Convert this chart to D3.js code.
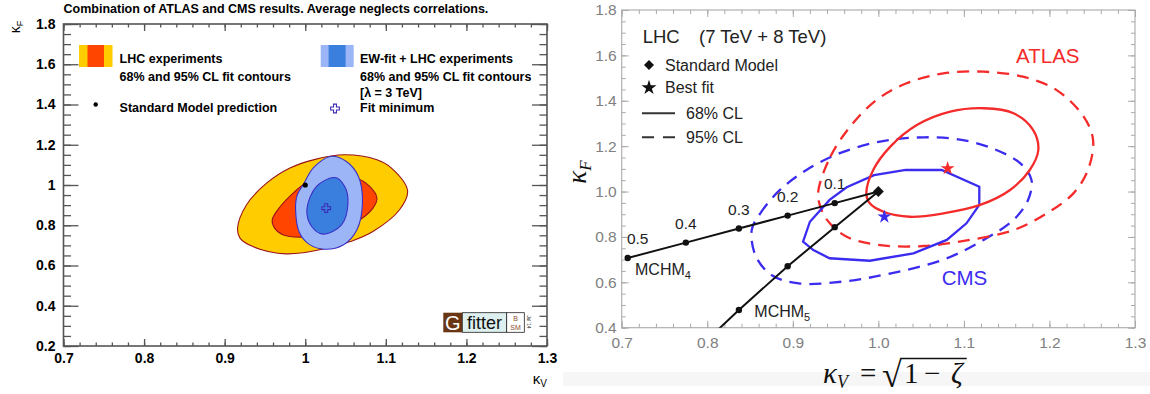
<!DOCTYPE html>
<html>
<head>
<meta charset="utf-8">
<script src="https://cdn.jsdelivr.net/npm/d3@7"></script>
<style>
html, body { margin: 0; padding: 0; background: #fff; }
svg { display: block; font-family: "Liberation Sans", Arial, Helvetica, sans-serif; }
</style>
</head>
<body>
<svg id="chart" width="1150" height="394"></svg>
<script>
// ---------- left panel (Gfitter) data ----------
var leftXTicks = [0.7, 0.8, 0.9, 1.0, 1.1, 1.2, 1.3];
var leftXLabels = ['0.7', '0.8', '0.9', '1', '1.1', '1.2', '1.3'];
var leftYTicks = [0.2, 0.4, 0.6, 0.8, 1.0, 1.2, 1.4, 1.6, 1.8];
var leftYLabels = ['0.2', '0.4', '0.6', '0.8', '1', '1.2', '1.4', '1.6', '1.8'];

// contours as [kappaV, kappaF]
var lhc95 = [[0.916,0.786],[0.927,0.901],[0.952,1.009],[0.981,1.084],[1.010,1.125],[1.049,1.150],
             [1.089,1.125],[1.107,1.084],[1.127,0.971],[1.117,0.877],[1.084,0.769],[1.056,0.719],
             [1.027,0.686],[0.976,0.658],[0.935,0.694],[0.919,0.736]];
var lhc68 = [[0.959,0.827],[0.969,0.893],[0.985,0.960],[1.000,1.007],[1.018,1.034],[1.035,1.042],
             [1.064,1.034],[1.080,0.993],[1.089,0.935],[1.084,0.885],[1.068,0.827],[1.043,0.777],
             [1.014,0.747],[0.993,0.741],[0.973,0.752],[0.962,0.786]];
var ewLhc95 = [[1.031,1.142],[1.051,1.117],[1.066,1.042],[1.071,0.910],[1.064,0.777],[1.047,0.702],
               [1.024,0.681],[1.005,0.705],[0.993,0.761],[0.988,0.877],[0.990,0.950],[0.998,1.005],
               [1.010,1.085]];
var ewLhc68 = [[1.037,1.037],[1.049,0.993],[1.053,0.910],[1.045,0.802],[1.022,0.756],[1.008,0.794],
               [1.002,0.877],[1.014,0.993]];
var smPoint = [1.0, 1.0];
var fitMinimum = [1.026, 0.885];

// ---------- right panel data ----------
var rightXTicks = [0.7, 0.8, 0.9, 1.0, 1.1, 1.2, 1.3];
var rightYTicks = [0.4, 0.6, 0.8, 1.0, 1.2, 1.4, 1.6, 1.8];

var atlas95 = [[0.930,1.007],[0.944,1.154],[0.967,1.286],[0.998,1.404],[1.033,1.477],[1.076,1.521],
               [1.123,1.528],[1.169,1.506],[1.208,1.448],[1.240,1.330],[1.251,1.227],[1.245,1.095],
               [1.228,0.992],[1.197,0.904],[1.158,0.830],[1.107,0.787],[1.053,0.760],[1.002,0.764],
               [0.963,0.801],[0.940,0.875],[0.931,0.948]];
var atlas68 = [[0.986,0.992],[0.994,1.095],[1.014,1.198],[1.045,1.293],[1.084,1.352],[1.123,1.367],
               [1.158,1.345],[1.181,1.271],[1.187,1.183],[1.177,1.095],[1.154,1.007],[1.119,0.941],
               [1.076,0.904],[1.037,0.889],[1.006,0.911],[0.990,0.948]];
var cms95 = [[0.852,0.831],[0.862,0.904],[0.885,1.007],[0.916,1.095],[0.955,1.169],[1.002,1.220],
             [1.053,1.239],[1.099,1.227],[1.138,1.183],[1.166,1.124],[1.179,1.051],[1.175,0.963],
             [1.158,0.875],[1.123,0.787],[1.076,0.700],[1.010,0.636],[0.958,0.603],[0.907,0.595],
             [0.876,0.630],[0.857,0.713]];
var cms68 = [[0.912,0.779],[0.920,0.867],[0.943,0.963],[0.963,1.019],[0.995,1.072],[1.032,1.095],
             [1.074,1.095],[1.118,1.021],[1.118,0.941],[1.103,0.860],[1.080,0.787],[1.041,0.728],
             [0.990,0.695],[0.943,0.706],[0.924,0.742]];
var atlasBest = [1.081, 1.102];
var cmsBest = [1.007, 0.889];
var smRight = [1.0, 1.0];

var xiLabels = ['0.5', '0.4', '0.3', '0.2', '0.1'];
var mchm4 = [[0.707,0.707],[0.775,0.775],[0.837,0.837],[0.894,0.894],[0.949,0.949],[1.0,1.0]];
var mchm5 = [[1.0,1.0],[0.949,0.843],[0.894,0.671],[0.837,0.478],[0.775,0.258]];

var svg = d3.select('#chart');

// ROOT / Mathematica style frame with inward ticks on all four sides
function frameAxes(g, x, y, o) {
    var xr = x.range(), yr = y.range();
    function add(axis, tr) {
        var a = g.append('g').attr('transform', tr).call(axis);
        a.select('.domain').remove();
        a.attr('font-family', null).attr('font-size', o.fontSize).attr('font-weight', o.fontWeight);
        a.selectAll('line').attr('stroke', o.tickColor).attr('stroke-width', o.tickWidth);
        a.selectAll('text').attr('fill', o.textColor);
        return a;
    }
    var none = function() { return ''; };
    add(d3.axisBottom(x).tickValues(o.majorX).tickSizeInner(-o.lenX).tickSizeOuter(0)
        .tickPadding(o.padX).tickFormat(o.fmtX), 'translate(0,' + yr[0] + ')');
    add(d3.axisBottom(x).tickValues(o.minorX).tickSizeInner(-o.lenXm).tickSizeOuter(0)
        .tickFormat(none), 'translate(0,' + yr[0] + ')');
    add(d3.axisTop(x).tickValues(o.majorX).tickSizeInner(-o.lenX).tickSizeOuter(0)
        .tickFormat(none), 'translate(0,' + yr[1] + ')');
    add(d3.axisTop(x).tickValues(o.minorX).tickSizeInner(-o.lenXm).tickSizeOuter(0)
        .tickFormat(none), 'translate(0,' + yr[1] + ')');
    add(d3.axisLeft(y).tickValues(o.majorY).tickSizeInner(-o.lenY).tickSizeOuter(0)
        .tickPadding(o.padY).tickFormat(o.fmtY), 'translate(' + xr[0] + ',0)');
    add(d3.axisLeft(y).tickValues(o.minorY).tickSizeInner(-o.lenYm).tickSizeOuter(0)
        .tickFormat(none), 'translate(' + xr[0] + ',0)');
    add(d3.axisRight(y).tickValues(o.majorY).tickSizeInner(-o.lenY).tickSizeOuter(0)
        .tickFormat(none), 'translate(' + xr[1] + ',0)');
    add(d3.axisRight(y).tickValues(o.minorY).tickSizeInner(-o.lenYm).tickSizeOuter(0)
        .tickFormat(none), 'translate(' + xr[1] + ',0)');
    g.append('rect')
        .attr('x', xr[0]).attr('y', yr[1])
        .attr('width', xr[1] - xr[0]).attr('height', yr[0] - yr[1])
        .attr('fill', 'none').attr('stroke', o.frameColor).attr('stroke-width', o.frameWidth);
}

// =============== LEFT PANEL ===============
var xL = d3.scaleLinear().domain([0.7, 1.3]).range([63.5, 547]);
var yL = d3.scaleLinear().domain([0.2, 1.8]).range([346, 24]);
var L = svg.append('g');

var lineL = d3.line().x(function(d) { return xL(d[0]); }).y(function(d) { return yL(d[1]); })
    .curve(d3.curveCatmullRomClosed.alpha(0.5));

var contoursL = [
    {pts: lhc95, fill: '#ffcc00', stroke: '#99141b'},
    {pts: lhc68, fill: '#ff4500', stroke: '#99141b'},
    {pts: ewLhc95, fill: '#9bb5f7', stroke: '#3a2fc8'},
    {pts: ewLhc68, fill: '#3a7fdd', stroke: '#3a2fc8'}
];
L.selectAll('path.contour').data(contoursL).enter().append('path')
    .attr('class', 'contour')
    .attr('d', function(d) { return lineL(d.pts); })
    .attr('fill', function(d) { return d.fill; })
    .attr('stroke', function(d) { return d.stroke; })
    .attr('stroke-width', 1.1);

L.append('circle').attr('cx', xL(smPoint[0])).attr('cy', yL(smPoint[1])).attr('r', 2.6).attr('fill', '#000');
L.append('path').attr('d', d3.symbol(d3.symbolCross, 42)())
    .attr('transform', 'translate(' + xL(fitMinimum[0]) + ',' + yL(fitMinimum[1]) + ')')
    .attr('fill', 'none').attr('stroke', '#3d2bb5').attr('stroke-width', 1.1);

frameAxes(L, xL, yL, {
    majorX: leftXTicks, minorX: d3.range(0.7, 1.3001, 0.02),
    majorY: leftYTicks, minorY: d3.range(0.2, 1.8001, 0.05),
    lenX: 7, lenXm: 3.5, lenY: 15, lenYm: 7.5, padX: 7, padY: 8,
    fmtX: function(d, i) { return leftXLabels[i]; },
    fmtY: function(d, i) { return leftYLabels[i]; },
    fontSize: 14, fontWeight: 'bold', textColor: '#000',
    tickColor: '#555', tickWidth: 1.3, frameColor: '#555', frameWidth: 1.6
});

// title and axis titles
L.append('text').attr('x', 63.5).attr('y', 12.5).attr('font-size', 12.5).attr('font-weight', 'bold')
    .text('Combination of ATLAS and CMS results. Average neglects correlations.');
var kfL = L.append('text').attr('transform', 'translate(20,27) rotate(-90)')
    .attr('text-anchor', 'middle').attr('font-size', 14);
kfL.append('tspan').text('κ');
kfL.append('tspan').attr('font-size', 9).attr('dy', 3).text('F');
var kvL = L.append('text').attr('x', 547).attr('y', 384).attr('text-anchor', 'end').attr('font-size', 15);
kvL.append('tspan').text('κ');
kvL.append('tspan').attr('font-size', 10).attr('dy', 3).text('V');

// legend
var legL = L.append('g').attr('font-size', 12.5).attr('font-weight', 'bold');
legL.append('rect').attr('x', 79).attr('y', 45).attr('width', 33.5).attr('height', 22).attr('fill', '#ffcc00');
legL.append('rect').attr('x', 87.5).attr('y', 45).attr('width', 16.5).attr('height', 22).attr('fill', '#ff4500');
legL.append('text').attr('x', 119.6).attr('y', 63.3).text('LHC experiments');
legL.append('text').attr('x', 119.6).attr('y', 80.5).text('68% and 95% CL fit contours');
legL.append('rect').attr('x', 320.7).attr('y', 45).attr('width', 33).attr('height', 22).attr('fill', '#9bb5f7');
legL.append('rect').attr('x', 328.6).attr('y', 45).attr('width', 17).attr('height', 22).attr('fill', '#3a7fdd');
legL.append('text').attr('x', 360).attr('y', 63.3).text('EW-fit + LHC experiments');
legL.append('text').attr('x', 360).attr('y', 80.5).text('68% and 95% CL fit contours');
legL.append('text').attr('x', 360).attr('y', 97).text('[λ = 3 TeV]');
legL.append('circle').attr('cx', 95.7).attr('cy', 104.5).attr('r', 2.2).attr('fill', '#000');
legL.append('text').attr('x', 119.6).attr('y', 112).text('Standard Model prediction');
legL.append('path').attr('d', d3.symbol(d3.symbolCross, 42)())
    .attr('transform', 'translate(335,108.5)')
    .attr('fill', 'none').attr('stroke', '#3d2bb5').attr('stroke-width', 1.1);
legL.append('text').attr('x', 360).attr('y', 112).text('Fit minimum');

// Gfitter logo
var logo = L.append('g');
logo.append('rect').attr('x', 443.3).attr('y', 312.7).attr('width', 19).attr('height', 19.6).attr('fill', '#6a3512');
logo.append('text').attr('x', 452.8).attr('y', 330).attr('text-anchor', 'middle')
    .attr('font-size', 20).attr('fill', '#fff').text('G');
logo.append('rect').attr('x', 462.3).attr('y', 312.7).attr('width', 44.4).attr('height', 19.6)
    .attr('fill', '#ddf0ef').attr('stroke', '#222').attr('stroke-width', 0.8);
logo.append('text').attr('x', 484.5).attr('y', 329).attr('text-anchor', 'middle')
    .attr('font-size', 18).attr('fill', '#111').text('fitter');
logo.append('rect').attr('x', 506.7).attr('y', 312.7).attr('width', 17.6).attr('height', 19.6)
    .attr('fill', '#fff').attr('stroke', '#222').attr('stroke-width', 0.8);
logo.append('text').attr('x', 515.5).attr('y', 320.5).attr('text-anchor', 'middle')
    .attr('font-size', 7).attr('fill', '#8b4a2a').text('B');
logo.append('text').attr('x', 515.5).attr('y', 329.5).attr('text-anchor', 'middle')
    .attr('font-size', 7).attr('fill', '#8b4a2a').text('SM');
logo.append('text').attr('transform', 'translate(527,322) rotate(90)').attr('text-anchor', 'middle')
    .attr('font-size', 4.5).attr('fill', '#333').text("Jul '14");

// =============== RIGHT PANEL ===============
var xR = d3.scaleLinear().domain([0.7, 1.3]).range([621.7, 1135]);
var yR = d3.scaleLinear().domain([0.4, 1.8]).range([327.7, 10]);
var R = svg.append('g');

R.append('rect').attr('x', 563).attr('y', 372).attr('width', 587).attr('height', 14).attr('fill', '#f6f6f6');

R.append('clipPath').attr('id', 'clipR').append('rect')
    .attr('x', xR.range()[0]).attr('y', yR.range()[1])
    .attr('width', xR.range()[1] - xR.range()[0]).attr('height', yR.range()[0] - yR.range()[1]);

frameAxes(R, xR, yR, {
    majorX: rightXTicks, minorX: d3.range(0.7, 1.3001, 0.02),
    majorY: rightYTicks, minorY: d3.range(0.4, 1.8001, 0.05),
    lenX: 7, lenXm: 4, lenY: 7, lenYm: 4, padX: 9.5, padY: 5,
    fmtX: d3.format('.1f'), fmtY: d3.format('.1f'),
    fontSize: 15.5, fontWeight: 'normal', textColor: '#808080',
    tickColor: '#aaa', tickWidth: 1, frameColor: '#aaa', frameWidth: 1.1
});

var plotR = R.append('g').attr('clip-path', 'url(#clipR)');
var smooth = d3.line().x(function(d) { return xR(d[0]); }).y(function(d) { return yR(d[1]); })
    .curve(d3.curveCatmullRomClosed.alpha(0.5));
var poly = d3.line().x(function(d) { return xR(d[0]); }).y(function(d) { return yR(d[1]); })
    .curve(d3.curveLinearClosed);
var open = d3.line().x(function(d) { return xR(d[0]); }).y(function(d) { return yR(d[1]); });

var contoursR = [
    {pts: cms95, gen: smooth, color: '#3b2cf0', dash: '12,8'},
    {pts: atlas95, gen: smooth, color: '#f52a2a', dash: '12,8'},
    {pts: cms68, gen: poly, color: '#3b2cf0', dash: null},
    {pts: atlas68, gen: smooth, color: '#f52a2a', dash: null}
];
plotR.selectAll('path.contour').data(contoursR).enter().append('path')
    .attr('class', 'contour')
    .attr('d', function(d) { return d.gen(d.pts); })
    .attr('fill', 'none')
    .attr('stroke', function(d) { return d.color; })
    .attr('stroke-width', 2.3)
    .attr('stroke-dasharray', function(d) { return d.dash; });

// composite Higgs model lines
[mchm4, mchm5].forEach(function(pts) {
    plotR.append('path').attr('d', open(pts)).attr('fill', 'none')
        .attr('stroke', '#111').attr('stroke-width', 2);
    plotR.selectAll(null).data(pts.filter(function(p) { return p[0] < 1; }))
        .enter().append('circle')
        .attr('cx', function(d) { return xR(d[0]); }).attr('cy', function(d) { return yR(d[1]); })
        .attr('r', 3.2).attr('fill', '#111');
});

R.selectAll('text.xi').data(mchm4.slice(0, 5)).enter().append('text')
    .attr('class', 'xi')
    .attr('x', function(d, i) { return xR(d[0]) + (i === 0 ? 10 : 0); })
    .attr('y', function(d) { return yR(d[1]) - 14; })
    .attr('text-anchor', 'middle').attr('font-size', 15.5).attr('fill', '#222')
    .text(function(d, i) { return xiLabels[i]; });

function modelLabel(name, sub, at) {
    var t = R.append('text').attr('x', xR(at[0])).attr('y', yR(at[1]))
        .attr('font-size', 16).attr('fill', '#222');
    t.append('tspan').text(name);
    t.append('tspan').attr('font-size', 11).attr('dy', 4).text(sub);
}
modelLabel('MCHM', '4', [0.7156, 0.632]);
modelLabel('MCHM', '5', [0.855, 0.447]);

// markers
R.append('path').attr('d', d3.symbol(d3.symbolSquare, 60)())
    .attr('transform', 'translate(' + xR(smRight[0]) + ',' + yR(smRight[1]) + ') rotate(45)')
    .attr('fill', '#111');
R.append('path').attr('d', d3.symbol(d3.symbolStar, 60)())
    .attr('transform', 'translate(' + xR(atlasBest[0]) + ',' + yR(atlasBest[1]) + ')')
    .attr('fill', '#f52a2a');
R.append('path').attr('d', d3.symbol(d3.symbolStar, 60)())
    .attr('transform', 'translate(' + xR(cmsBest[0]) + ',' + yR(cmsBest[1]) + ')')
    .attr('fill', '#3b2cf0');

R.append('text').attr('x', xR(1.161)).attr('y', yR(1.565)).attr('font-size', 20.5)
    .attr('fill', '#f52a2a').text('ATLAS');
R.append('text').attr('x', xR(1.074)).attr('y', yR(0.588)).attr('font-size', 20.5)
    .attr('fill', '#3b2cf0').text('CMS');

// legend
var legR = R.append('g').attr('fill', '#222').attr('font-size', 16);
legR.append('text').attr('x', 642.7).attr('y', 43.3).attr('font-size', 18.5).text('LHC');
legR.append('text').attr('x', 699).attr('y', 43.3).attr('font-size', 18.5).text('(7 TeV + 8 TeV)');
legR.append('path').attr('d', d3.symbol(d3.symbolSquare, 50)())
    .attr('transform', 'translate(649,65) rotate(45)').attr('fill', '#111');
legR.append('text').attr('x', 665).attr('y', 70.5).text('Standard Model');
legR.append('path').attr('d', d3.symbol(d3.symbolStar, 70)())
    .attr('transform', 'translate(649,87.7)').attr('fill', '#111');
legR.append('text').attr('x', 665).attr('y', 92.5).text('Best fit');
legR.append('line').attr('x1', 642).attr('x2', 675).attr('y1', 113.3).attr('y2', 113.3)
    .attr('stroke', '#333').attr('stroke-width', 2);
legR.append('text').attr('x', 686).attr('y', 118.5).text('68% CL');
legR.append('line').attr('x1', 642).attr('x2', 675).attr('y1', 137.3).attr('y2', 137.3)
    .attr('stroke', '#333').attr('stroke-width', 2).attr('stroke-dasharray', '12,9');
legR.append('text').attr('x', 686).attr('y', 142.5).text('95% CL');

// axis titles
var serif = '"Liberation Serif", "DejaVu Serif", serif';
var kfR = R.append('text').attr('transform', 'translate(586,172) rotate(-90)')
    .attr('text-anchor', 'middle').attr('font-family', serif).attr('font-size', 27).attr('fill', '#111');
kfR.append('tspan').attr('font-style', 'italic').text('κ');
kfR.append('tspan').attr('font-style', 'italic').attr('font-size', 17).attr('dy', 5).text('F');

var kvR = R.append('text').attr('y', 383)
    .attr('font-family', serif).attr('font-size', 29).attr('fill', '#111');
kvR.append('tspan').attr('x', 823).attr('font-style', 'italic').text('κ');
kvR.append('tspan').attr('font-style', 'italic').attr('font-size', 18).attr('dy', 5).text('V');
kvR.append('tspan').attr('x', 860).attr('dy', -5).text('=');
kvR.append('tspan').attr('x', 882).attr('font-size', 36).attr('dy', 4).text('√');
kvR.append('tspan').attr('x', 904).attr('dy', -4).text('1');
kvR.append('tspan').attr('x', 924).text('−');
kvR.append('tspan').attr('x', 951).attr('font-style', 'italic').text('ζ');
var node = kvR.node();
var rootBox = node.getExtentOfChar(3);
var endX = node.getEndPositionOfChar(node.getNumberOfChars() - 1).x;
R.append('line')
    .attr('x1', rootBox.x + rootBox.width - 1.5).attr('x2', endX + 4)
    .attr('y1', rootBox.y + 3.5).attr('y2', rootBox.y + 3.5)
    .attr('stroke', '#111').attr('stroke-width', 1.3);
</script>
</body>
</html>
